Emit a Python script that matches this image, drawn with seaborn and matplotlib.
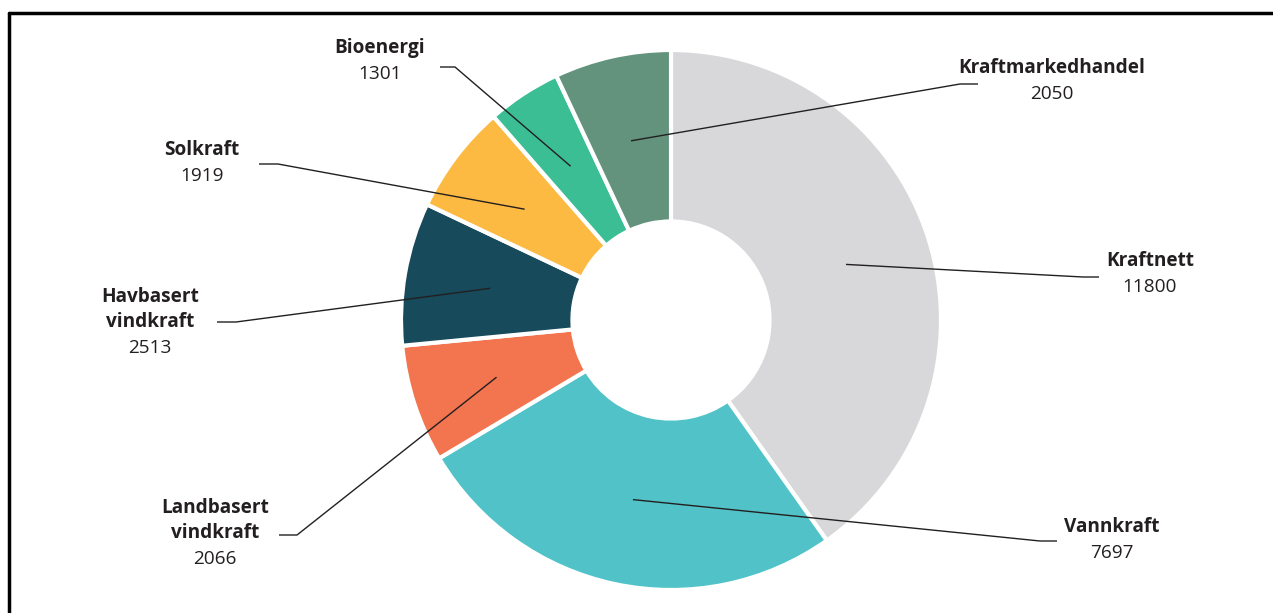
import numpy as np
import matplotlib
matplotlib.use("Agg")
import matplotlib.pyplot as plt
import seaborn as sns

# data
kategorier = ["Kraftnett", "Vannkraft", "Landbasert\nvindkraft", "Havbasert\nvindkraft",
              "Solkraft", "Bioenergi", "Kraftmarkedhandel"]
verdier = [11800, 7697, 2066, 2513, 1919, 1301, 2050]
farger = ["#d8d8da", "#51c3c8", "#f2754f", "#174a5b", "#fcba43", "#3cbe95", "#63937c"]

# label layout in pixels (text centre x, first line centre y, elbow x, elbow y, end x)
etiketter = [
    (1150, 261, 1083, 277, 1099),
    (1112, 527, 1040, 541, 1057),
    (215, 508, 297, 535, 279),
    (150, 297, 236, 322, 217),
    (202, 150, 278, 164, 259),
    (380, 48, 455, 67, 440),
    (1052, 68, 960, 84, 978),
]

W, H = 1273, 613
sns.set_theme(style="white")
plt.rcParams["font.family"] = ["Open Sans", "DejaVu Sans"]

fig = plt.figure(figsize=(W / 100, H / 100), dpi=100)
ax = fig.add_axes([0, 0, 1, 1])

cx, cy, R = 671, H - 320, 270
wedges, _ = ax.pie(verdier, colors=farger, startangle=90, counterclock=False,
                   radius=R, center=(cx, cy),
                   wedgeprops=dict(width=R * 0.635, edgecolor="white", linewidth=3))
ax.set_xlim(0, W)
ax.set_ylim(0, H)
ax.set_aspect("equal")
ax.axis("off")

tekst = "#231f20"
for w, navn, v, (tx, ty, ex, ey, hx) in zip(wedges, kategorier, verdier, etiketter):
    mid = np.deg2rad((w.theta1 + w.theta2) / 2)
    ax0 = cx + 0.68 * R * np.cos(mid)
    ay0 = cy + 0.68 * R * np.sin(mid)
    ax.plot([ax0, ex, hx], [ay0, H - ey, H - ey], color=tekst, lw=1, solid_capstyle="butt")
    linjer = navn.split("\n")
    for i, l in enumerate(linjer):
        ax.text(tx, H - (ty + 25 * i), l, ha="center", va="center",
                fontsize=13.7, fontweight="bold", color=tekst)
    ax.text(tx, H - (ty + 25 * len(linjer) + 1), str(v), ha="center", va="center",
            fontsize=13.7, color=tekst)

# frame lines (left and top)
fig.add_artist(plt.Line2D([9 / W, 9 / W], [0, 1 - 13 / H], color="black", lw=2.5,
                          transform=fig.transFigure))
fig.add_artist(plt.Line2D([9 / W, 1], [1 - 13 / H, 1 - 13 / H], color="black", lw=2.5,
                          transform=fig.transFigure))

fig.savefig("out.png", dpi=100)
